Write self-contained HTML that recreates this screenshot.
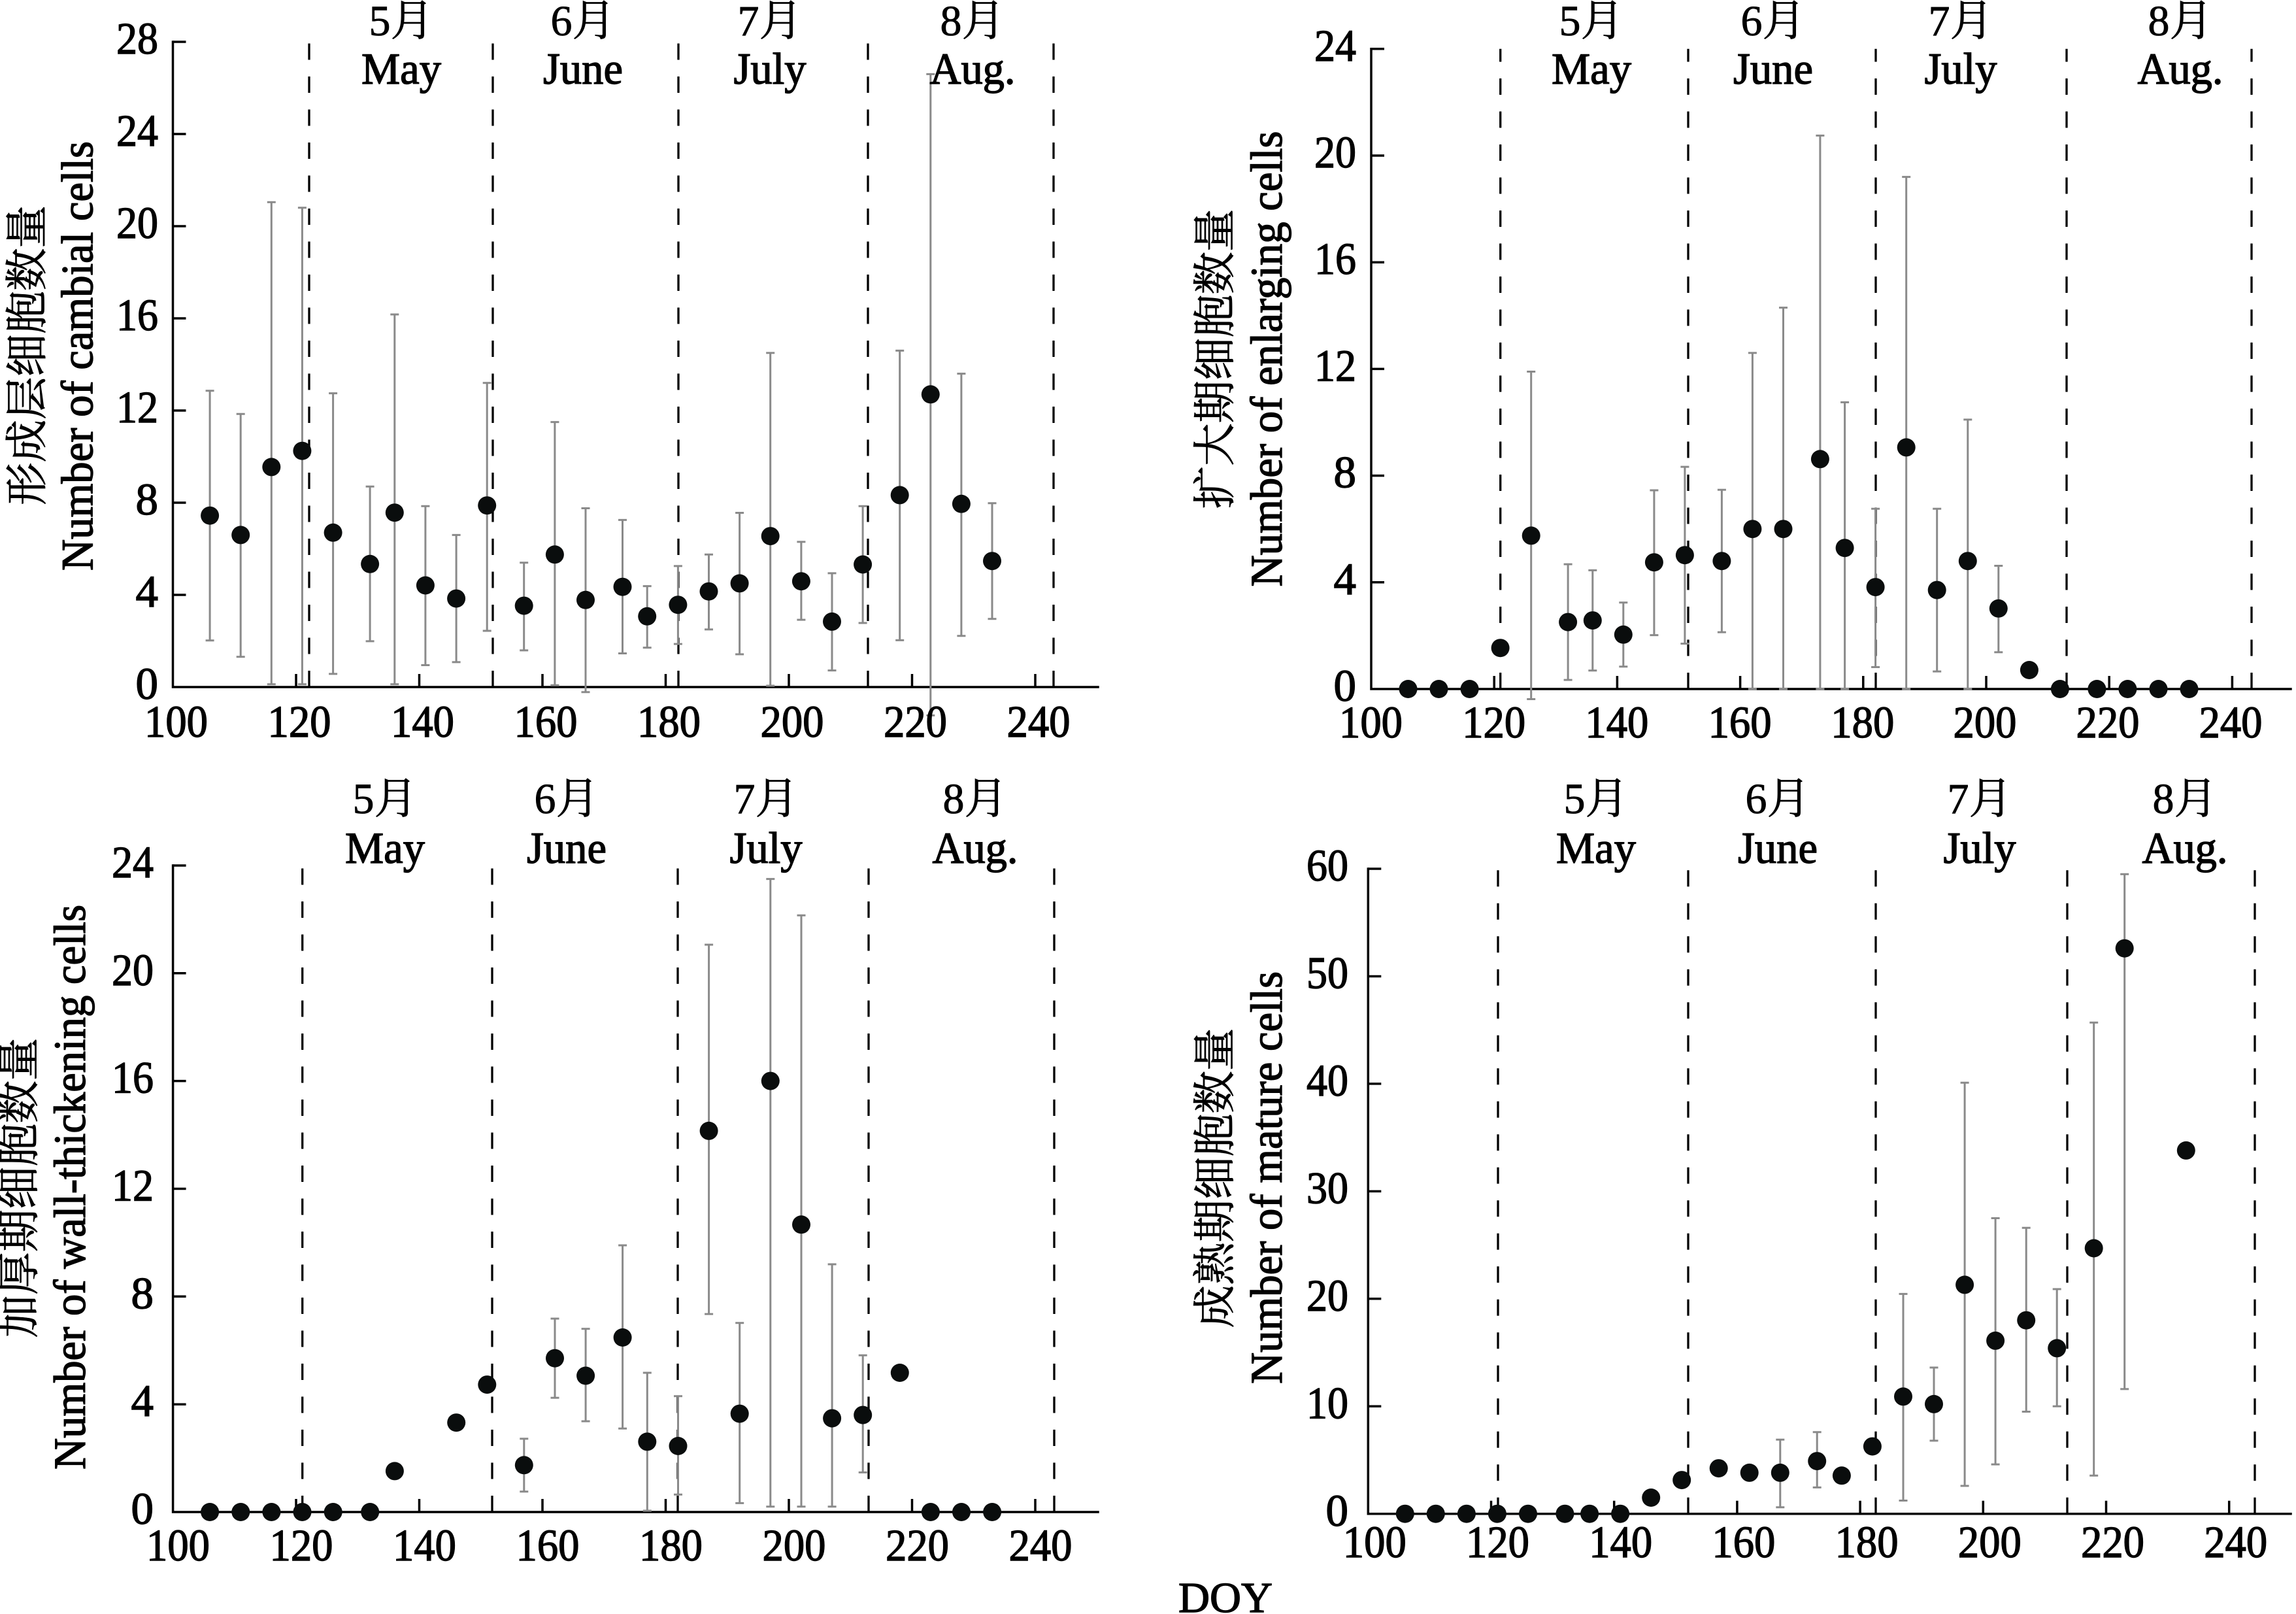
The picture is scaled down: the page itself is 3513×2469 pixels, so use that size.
<!DOCTYPE html>
<html>
<head>
<meta charset="utf-8">
<style>
html,body{margin:0;padding:0;background:#fff;overflow:hidden;}
svg{display:block;}
text{font-family:"Liberation Serif","Noto Serif CJK SC",serif;fill:#000;stroke:#000;stroke-width:1.4px;}
.cjk text, text.cjk{font-family:"Liberation Serif","Noto Serif CJK SC","Noto Sans CJK SC",serif;stroke-width:0.8px;}
</style>
</head>
<body>
<svg xmlns="http://www.w3.org/2000/svg" width="3513" height="2469" viewBox="0 0 3513 2469" font-family="Liberation Serif, Noto Serif CJK SC, serif">
<rect width="3513" height="2469" fill="#fff"/>

<!-- ============ DASHED MONTH LINES ============ -->
<g stroke="#000" stroke-width="3.3" stroke-dasharray="25 25.5" fill="none">
<path d="M473 1051V64M754 1051V64M1038 1051V64M1328 1051V64M1612 1051V64"/>
<path d="M2295.7 1054V74.8M2583 1054V74.8M2870 1054V74.8M3162 1054V74.8M3445 1054V74.8"/>
<path d="M462.7 2313V1324M753 2313V1324M1037 2313V1324M1329 2313V1324M1613 2313V1324"/>
<path d="M2292 2315.7V1329M2583 2315.7V1329M2870 2315.7V1329M3163 2315.7V1329M3450 2315.7V1329"/>
</g>

<!-- ============ AXES ============ -->
<g stroke="#000" stroke-width="3.5" fill="none">
<path d="M264.5 64V1051H1680" stroke-linecap="square"/>
<path d="M264.5 910h20M264.5 769h20M264.5 628h20M264.5 487h20M264.5 346h20M264.5 205h20M264.5 64h20"/>
<path d="M453 1051v-20M641.5 1051v-20M830 1051v-20M1018.5 1051v-20M1207 1051v-20M1395.5 1051v-20M1584 1051v-20"/>

<path d="M2098 74.8V1054H3505" stroke-linecap="square"/>
<path d="M2098 890.8h20M2098 727.6h20M2098 564.4h20M2098 401.2h20M2098 238h20M2098 74.8h20"/>
<path d="M2286.2 1054v-20M2474.4 1054v-20M2662.6 1054v-20M2850.8 1054v-20M3039 1054v-20M3227.2 1054v-20M3415.4 1054v-20"/>

<path d="M264.6 1324V2313H1680" stroke-linecap="square"/>
<path d="M264.6 2148.2h20M264.6 1983.3h20M264.6 1818.5h20M264.6 1653.6h20M264.6 1488.8h20M264.6 1324h20"/>
<path d="M453 2313v-20M641.5 2313v-20M830 2313v-20M1018.5 2313v-20M1207 2313v-20M1395.5 2313v-20M1584 2313v-20"/>

<path d="M2093.3 1329V2315.7H3505" stroke-linecap="square"/>
<path d="M2093.3 2151.3h20M2093.3 1986.8h20M2093.3 1822.4h20M2093.3 1657.9h20M2093.3 1493.5h20M2093.3 1329h20"/>
<path d="M2281.5 2315.7v-20M2469.7 2315.7v-20M2657.9 2315.7v-20M2846.1 2315.7v-20M3034.3 2315.7v-20M3222.5 2315.7v-20M3410.7 2315.7v-20"/>
</g>

<!-- ============ ERROR BARS ============ -->
<g stroke="#8a8a8a" stroke-width="3" fill="none">
<path d="M321.1 597.7V979.8M314.6 597.7h13M314.6 979.8h13
M368.2 633.3V1004.8M361.7 633.3h13M361.7 1004.8h13
M415.3 309.3V1046.8M408.8 309.3h13M408.8 1046.8h13
M462.4 317.8V1046.8M455.9 317.8h13M455.9 1046.8h13
M509.6 601.6V1030.9M503.1 601.6h13M503.1 1030.9h13
M566.1 744.3V980.9M559.6 744.3h13M559.6 980.9h13
M603.8 481V1046.8M597.3 481h13M597.3 1046.8h13
M650.9 774.3V1017.5M644.4 774.3h13M644.4 1017.5h13
M698.1 818.4V1012.9M691.6 818.4h13M691.6 1012.9h13
M745.2 585.7V965M738.7 585.7h13M738.7 965h13
M801.7 860.7V994.9M795.2 860.7h13M795.2 994.9h13
M848.9 645.6V1048.2M842.4 645.6h13M842.4 1048.2h13
M896 777.5V1058.8M889.5 777.5h13M889.5 1058.8h13
M952.5 795.4V999.5M946 795.4h13M946 999.5h13
M990.2 896.6V990.7M983.7 896.6h13M983.7 990.7h13
M1037.4 865.9V985.1M1030.9 865.9h13M1030.9 985.1h13
M1084.5 848.3V962.9M1078 848.3h13M1078 962.9h13
M1131.6 784.5V1000.9M1125.1 784.5h13M1125.1 1000.9h13
M1178.7 539.9V1049M1172.2 539.9h13M1172.2 1049h13
M1225.9 828.9V948.1M1219.4 828.9h13M1219.4 948.1h13
M1273 876.9V1025.6M1266.5 876.9h13M1266.5 1025.6h13
M1320.1 774.3V953M1313.6 774.3h13M1313.6 953h13
M1376.7 536.4V979.4M1370.2 536.4h13M1370.2 979.4h13
M1423.8 113.4V1094.4M1417.3 113.4h13M1417.3 1094.4h13
M1470.9 571.6V972.7M1464.4 571.6h13M1464.4 972.7h13
M1518 769.7V946.7M1511.5 769.7h13M1511.5 946.7h13"/>

<path d="M2342.7 568.5V1069.5M2336.2 568.5h13M2336.2 1069.5h13
M2399.1 863.1V1040.1M2392.6 863.1h13M2392.6 1040.1h13
M2436.8 872.4V1025.8M2430.3 872.4h13M2430.3 1025.8h13
M2483.8 921.8V1019.7M2477.3 921.8h13M2477.3 1019.7h13
M2530.9 750V971.6M2524.4 750h13M2524.4 971.6h13
M2577.9 714.1V984.6M2571.4 714.1h13M2571.4 984.6h13
M2634.4 749.2V967.1M2627.9 749.2h13M2627.9 967.1h13
M2681.4 539.9V1054M2674.9 539.9h13M2674.9 1054h13
M2728.5 470.6V1054M2722 470.6h13M2722 1054h13
M2784.9 207.4V1054M2778.4 207.4h13M2778.4 1054h13
M2822.6 615.4V1054M2816.1 615.4h13M2816.1 1054h13
M2869.6 778.2V1020.5M2863.1 778.2h13M2863.1 1020.5h13
M2916.7 270.6V1054M2910.2 270.6h13M2910.2 1054h13
M2963.7 778.2V1027.1M2957.2 778.2h13M2957.2 1027.1h13
M3010.8 641.9V1054M3004.3 641.9h13M3004.3 1054h13
M3057.8 865.5V997.7M3051.3 865.5h13M3051.3 997.7h13"/>

<path d="M801.8 2200.9V2281.7M795.3 2200.9h13M795.3 2281.7h13
M849 2017.1V2138.3M842.5 2017.1h13M842.5 2138.3h13
M896.1 2032.8V2174.1M889.6 2032.8h13M889.6 2174.1h13
M952.6 1905V2185.2M946.1 1905h13M946.1 2185.2h13
M990.3 2100V2311M983.8 2100h13M983.8 2311h13
M1037.5 2135.8V2286.2M1031 2135.8h13M1031 2286.2h13
M1084.6 1445.1V2010.1M1078.1 1445.1h13M1078.1 2010.1h13
M1131.7 2023.7V2299.4M1125.2 2023.7h13M1125.2 2299.4h13
M1178.8 1344.6V2304.8M1172.3 1344.6h13M1172.3 2304.8h13
M1226 1400.2V2304.8M1219.5 1400.2h13M1219.5 2304.8h13
M1273.1 1934V2304.8M1266.6 1934h13M1266.6 2304.8h13
M1320.2 2073.2V2252.4M1313.7 2073.2h13M1313.7 2252.4h13"/>

<path d="M2723.8 2202.2V2305.8M2717.3 2202.2h13M2717.3 2305.8h13
M2780.2 2190.7V2275.4M2773.7 2190.7h13M2773.7 2275.4h13
M2912 1979.4V2295.5M2905.5 1979.4h13M2905.5 2295.5h13
M2959 2092V2203.9M2952.5 2092h13M2952.5 2203.9h13
M3006.1 1656.3V2273M2999.6 1656.3h13M2999.6 2273h13
M3053.1 1863.5V2240.1M3046.6 1863.5h13M3046.6 2240.1h13
M3100.2 1878.3V2159.5M3093.7 1878.3h13M3093.7 2159.5h13
M3147.2 1972V2151.3M3140.7 1972h13M3140.7 2151.3h13
M3203.7 1564.2V2257.3M3197.2 1564.2h13M3197.2 2257.3h13
M3250.7 1337.2V2124.9M3244.2 1337.2h13M3244.2 2124.9h13"/>
</g>

<!-- ============ DATA POINTS ============ -->
<g fill="#0a0d0d">
<circle cx="321.1" cy="788.7" r="14"/><circle cx="368.2" cy="818.4" r="14"/><circle cx="415.3" cy="714.4" r="14"/><circle cx="462.4" cy="689.7" r="14"/><circle cx="509.6" cy="814.8" r="14"/><circle cx="566.1" cy="862.8" r="14"/><circle cx="603.8" cy="784.2" r="14"/><circle cx="650.9" cy="895.5" r="14"/><circle cx="698.1" cy="915.6" r="14"/><circle cx="745.2" cy="773.2" r="14"/><circle cx="801.7" cy="926.6" r="14"/><circle cx="848.9" cy="848.3" r="14"/><circle cx="896" cy="917.8" r="14"/><circle cx="952.5" cy="897.7" r="14"/><circle cx="990.2" cy="942.8" r="14"/><circle cx="1037.4" cy="925.2" r="14"/><circle cx="1084.5" cy="904.7" r="14"/><circle cx="1131.6" cy="892.4" r="14"/><circle cx="1178.7" cy="820.1" r="14"/><circle cx="1225.9" cy="889.2" r="14"/><circle cx="1273" cy="950.9" r="14"/><circle cx="1320.1" cy="863.5" r="14"/><circle cx="1376.7" cy="757.4" r="14"/><circle cx="1423.8" cy="603.3" r="14"/><circle cx="1470.9" cy="770.8" r="14"/><circle cx="1518" cy="858.2" r="14"/>
<circle cx="2154.5" cy="1054" r="14"/><circle cx="2201.5" cy="1054" r="14"/><circle cx="2248.6" cy="1054" r="14"/><circle cx="2295.6" cy="991.2" r="14"/><circle cx="2342.7" cy="819.4" r="14"/><circle cx="2399.1" cy="951.6" r="14"/><circle cx="2436.8" cy="949.1" r="14"/><circle cx="2483.8" cy="970.8" r="14"/><circle cx="2530.9" cy="860.2" r="14"/><circle cx="2577.9" cy="849.2" r="14"/><circle cx="2634.4" cy="858.2" r="14"/><circle cx="2681.4" cy="809.2" r="14"/><circle cx="2728.5" cy="809.2" r="14"/><circle cx="2784.9" cy="702.3" r="14"/><circle cx="2822.6" cy="838.2" r="14"/><circle cx="2869.6" cy="898.1" r="14"/><circle cx="2916.7" cy="684.4" r="14"/><circle cx="2963.7" cy="902.6" r="14"/><circle cx="3010.8" cy="858.2" r="14"/><circle cx="3057.8" cy="930.8" r="14"/><circle cx="3104.9" cy="1025" r="14"/><circle cx="3151.9" cy="1054" r="14"/><circle cx="3208.4" cy="1054" r="14"/><circle cx="3255.4" cy="1054" r="14"/><circle cx="3302.5" cy="1054" r="14"/><circle cx="3349.5" cy="1054" r="14"/>
<circle cx="321.1" cy="2313" r="14"/><circle cx="368.3" cy="2313" r="14"/><circle cx="415.4" cy="2313" r="14"/><circle cx="462.5" cy="2313" r="14"/><circle cx="509.7" cy="2313" r="14"/><circle cx="566.2" cy="2313" r="14"/><circle cx="603.9" cy="2250.4" r="14"/><circle cx="698.2" cy="2176.2" r="14"/><circle cx="745.3" cy="2118.1" r="14"/><circle cx="801.8" cy="2241.3" r="14"/><circle cx="849" cy="2077.7" r="14"/><circle cx="896.1" cy="2104.5" r="14"/><circle cx="952.6" cy="2046" r="14"/><circle cx="990.3" cy="2205.4" r="14"/><circle cx="1037.5" cy="2212" r="14"/><circle cx="1084.6" cy="1729.9" r="14"/><circle cx="1131.7" cy="2162.6" r="14"/><circle cx="1178.8" cy="1653.6" r="14"/><circle cx="1226" cy="1873.3" r="14"/><circle cx="1273.1" cy="2169.6" r="14"/><circle cx="1320.2" cy="2164.6" r="14"/><circle cx="1376.8" cy="2100" r="14"/><circle cx="1423.9" cy="2313" r="14"/><circle cx="1471" cy="2313" r="14"/><circle cx="1518.1" cy="2313" r="14"/>
<circle cx="2149.8" cy="2315.7" r="14"/><circle cx="2196.8" cy="2315.7" r="14"/><circle cx="2243.9" cy="2315.7" r="14"/><circle cx="2290.9" cy="2315.7" r="14"/><circle cx="2338" cy="2315.7" r="14"/><circle cx="2394.4" cy="2315.7" r="14"/><circle cx="2432.1" cy="2315.7" r="14"/><circle cx="2479.1" cy="2315.7" r="14"/><circle cx="2526.2" cy="2291" r="14"/><circle cx="2573.2" cy="2264.1" r="14"/><circle cx="2629.7" cy="2246.1" r="14"/><circle cx="2676.7" cy="2252.9" r="14"/><circle cx="2723.8" cy="2252.9" r="14"/><circle cx="2780.2" cy="2235.1" r="14"/><circle cx="2817.9" cy="2257.3" r="14"/><circle cx="2864.9" cy="2212.6" r="14"/><circle cx="2912" cy="2136.4" r="14"/><circle cx="2959" cy="2147.9" r="14"/><circle cx="3006.1" cy="1965.4" r="14"/><circle cx="3053.1" cy="2050.9" r="14"/><circle cx="3100.2" cy="2019.7" r="14"/><circle cx="3147.2" cy="2062.4" r="14"/><circle cx="3203.7" cy="1909.5" r="14"/><circle cx="3250.7" cy="1450.7" r="14"/><circle cx="3344.8" cy="1759.9" r="14"/>
</g>

<!-- ============ Y TICK LABELS ============ -->
<g font-size="69" text-anchor="end" font-family="Liberation Serif, serif">
<text x="242" y="1069">0</text>
<text x="242" y="928">4</text>
<text x="242" y="787">8</text>
<text x="242" y="646" textLength="64" lengthAdjust="spacingAndGlyphs">12</text>
<text x="242" y="505" textLength="64" lengthAdjust="spacingAndGlyphs">16</text>
<text x="242" y="364" textLength="64" lengthAdjust="spacingAndGlyphs">20</text>
<text x="242" y="223" textLength="64" lengthAdjust="spacingAndGlyphs">24</text>
<text x="242" y="82" textLength="64" lengthAdjust="spacingAndGlyphs">28</text>

<text x="2075" y="1072">0</text>
<text x="2075" y="908.8">4</text>
<text x="2075" y="745.6">8</text>
<text x="2075" y="582.4" textLength="64" lengthAdjust="spacingAndGlyphs">12</text>
<text x="2075" y="419.2" textLength="64" lengthAdjust="spacingAndGlyphs">16</text>
<text x="2075" y="256" textLength="64" lengthAdjust="spacingAndGlyphs">20</text>
<text x="2075" y="92.8" textLength="64" lengthAdjust="spacingAndGlyphs">24</text>

<text x="235" y="2331">0</text>
<text x="235" y="2166.2">4</text>
<text x="235" y="2001.3">8</text>
<text x="235" y="1836.5" textLength="64" lengthAdjust="spacingAndGlyphs">12</text>
<text x="235" y="1671.6" textLength="64" lengthAdjust="spacingAndGlyphs">16</text>
<text x="235" y="1506.8" textLength="64" lengthAdjust="spacingAndGlyphs">20</text>
<text x="235" y="1342" textLength="64" lengthAdjust="spacingAndGlyphs">24</text>

<text x="2063" y="2334">0</text>
<text x="2063" y="2169.3" textLength="64" lengthAdjust="spacingAndGlyphs">10</text>
<text x="2063" y="2004.8" textLength="64" lengthAdjust="spacingAndGlyphs">20</text>
<text x="2063" y="1840.4" textLength="64" lengthAdjust="spacingAndGlyphs">30</text>
<text x="2063" y="1675.9" textLength="64" lengthAdjust="spacingAndGlyphs">40</text>
<text x="2063" y="1511.5" textLength="64" lengthAdjust="spacingAndGlyphs">50</text>
<text x="2063" y="1347" textLength="64" lengthAdjust="spacingAndGlyphs">60</text>
</g>

<!-- ============ X TICK LABELS ============ -->
<g font-size="69" text-anchor="middle" font-family="Liberation Serif, serif">
<text x="269.5" y="1127" textLength="97" lengthAdjust="spacingAndGlyphs">100</text>
<text x="458" y="1127" textLength="97" lengthAdjust="spacingAndGlyphs">120</text>
<text x="646.5" y="1127" textLength="97" lengthAdjust="spacingAndGlyphs">140</text>
<text x="835" y="1127" textLength="97" lengthAdjust="spacingAndGlyphs">160</text>
<text x="1023.5" y="1127" textLength="97" lengthAdjust="spacingAndGlyphs">180</text>
<text x="1212" y="1127" textLength="97" lengthAdjust="spacingAndGlyphs">200</text>
<text x="1400.5" y="1127" textLength="97" lengthAdjust="spacingAndGlyphs">220</text>
<text x="1589" y="1127" textLength="97" lengthAdjust="spacingAndGlyphs">240</text>

<text x="2097.5" y="1128" textLength="97" lengthAdjust="spacingAndGlyphs">100</text>
<text x="2285.7" y="1128" textLength="97" lengthAdjust="spacingAndGlyphs">120</text>
<text x="2473.9" y="1128" textLength="97" lengthAdjust="spacingAndGlyphs">140</text>
<text x="2662.1" y="1128" textLength="97" lengthAdjust="spacingAndGlyphs">160</text>
<text x="2849.8" y="1128" textLength="97" lengthAdjust="spacingAndGlyphs">180</text>
<text x="3037" y="1128" textLength="97" lengthAdjust="spacingAndGlyphs">200</text>
<text x="3225" y="1128" textLength="97" lengthAdjust="spacingAndGlyphs">220</text>
<text x="3413" y="1128" textLength="97" lengthAdjust="spacingAndGlyphs">240</text>

<text x="272.5" y="2387" textLength="97" lengthAdjust="spacingAndGlyphs">100</text>
<text x="461" y="2387" textLength="97" lengthAdjust="spacingAndGlyphs">120</text>
<text x="649.5" y="2387" textLength="97" lengthAdjust="spacingAndGlyphs">140</text>
<text x="838" y="2387" textLength="97" lengthAdjust="spacingAndGlyphs">160</text>
<text x="1026.5" y="2387" textLength="97" lengthAdjust="spacingAndGlyphs">180</text>
<text x="1215" y="2387" textLength="97" lengthAdjust="spacingAndGlyphs">200</text>
<text x="1403.5" y="2387" textLength="97" lengthAdjust="spacingAndGlyphs">220</text>
<text x="1592" y="2387" textLength="97" lengthAdjust="spacingAndGlyphs">240</text>

<text x="2103.3" y="2382" textLength="97" lengthAdjust="spacingAndGlyphs">100</text>
<text x="2291.5" y="2382" textLength="97" lengthAdjust="spacingAndGlyphs">120</text>
<text x="2479.7" y="2382" textLength="97" lengthAdjust="spacingAndGlyphs">140</text>
<text x="2667.9" y="2382" textLength="97" lengthAdjust="spacingAndGlyphs">160</text>
<text x="2856.1" y="2382" textLength="97" lengthAdjust="spacingAndGlyphs">180</text>
<text x="3044.3" y="2382" textLength="97" lengthAdjust="spacingAndGlyphs">200</text>
<text x="3232.5" y="2382" textLength="97" lengthAdjust="spacingAndGlyphs">220</text>
<text x="3420.7" y="2382" textLength="97" lengthAdjust="spacingAndGlyphs">240</text>
</g>

<!-- DOY -->
<text x="1875" y="2466" font-size="66" text-anchor="middle" textLength="144" lengthAdjust="spacingAndGlyphs">DOY</text>

<!-- ============ MONTH LABELS ============ -->
<g class="cjk" font-size="66" text-anchor="middle">
<text x="614" y="54">5月</text>
<text x="892" y="54">6月</text>
<text x="1178" y="54">7月</text>
<text x="1488" y="54">8月</text>
<text x="2435" y="54">5月</text>
<text x="2713" y="54">6月</text>
<text x="3000" y="54">7月</text>
<text x="3336" y="54">8月</text>
<text x="589" y="1244">5月</text>
<text x="867" y="1244">6月</text>
<text x="1172" y="1244">7月</text>
<text x="1492" y="1244">8月</text>
<text x="2442" y="1244">5月</text>
<text x="2720" y="1244">6月</text>
<text x="3029" y="1244">7月</text>
<text x="3343" y="1244">8月</text>
</g>
<g font-size="68" text-anchor="middle">
<text x="614" y="128" textLength="122" lengthAdjust="spacingAndGlyphs">May</text>
<text x="892" y="128" textLength="122" lengthAdjust="spacingAndGlyphs">June</text>
<text x="1178" y="128" textLength="111" lengthAdjust="spacingAndGlyphs">July</text>
<text x="1488" y="128" textLength="131" lengthAdjust="spacingAndGlyphs">Aug.</text>
<text x="2435" y="128" textLength="122" lengthAdjust="spacingAndGlyphs">May</text>
<text x="2713" y="128" textLength="122" lengthAdjust="spacingAndGlyphs">June</text>
<text x="3000" y="128" textLength="111" lengthAdjust="spacingAndGlyphs">July</text>
<text x="3336" y="128" textLength="131" lengthAdjust="spacingAndGlyphs">Aug.</text>
<text x="589" y="1320" textLength="122" lengthAdjust="spacingAndGlyphs">May</text>
<text x="867" y="1320" textLength="122" lengthAdjust="spacingAndGlyphs">June</text>
<text x="1172" y="1320" textLength="111" lengthAdjust="spacingAndGlyphs">July</text>
<text x="1492" y="1320" textLength="131" lengthAdjust="spacingAndGlyphs">Aug.</text>
<text x="2442" y="1320" textLength="122" lengthAdjust="spacingAndGlyphs">May</text>
<text x="2720" y="1320" textLength="122" lengthAdjust="spacingAndGlyphs">June</text>
<text x="3029" y="1320" textLength="111" lengthAdjust="spacingAndGlyphs">July</text>
<text x="3343" y="1320" textLength="131" lengthAdjust="spacingAndGlyphs">Aug.</text>
</g>

<!-- ============ Y AXIS TITLES ============ -->
<g font-size="69" text-anchor="middle" font-family="Liberation Serif, serif">
<text transform="translate(141.7,544.5) rotate(-90)" textLength="657" lengthAdjust="spacingAndGlyphs">Number of cambial cells</text>
<text transform="translate(1961,549) rotate(-90)" textLength="697" lengthAdjust="spacingAndGlyphs">Number of enlarging cells</text>
<text transform="translate(130,1816) rotate(-90)" textLength="864" lengthAdjust="spacingAndGlyphs">Number of wall-thickening cells</text>
<text transform="translate(1961,1801.5) rotate(-90)" textLength="631" lengthAdjust="spacingAndGlyphs">Number of mature cells</text>
</g>
<g class="cjk" font-size="66" text-anchor="middle" dominant-baseline="central">
<text transform="translate(42.5,543.5) rotate(-90)" textLength="459" lengthAdjust="spacingAndGlyphs">形成层细胞数量</text>
<text transform="translate(1860,549) rotate(-90)" textLength="459" lengthAdjust="spacingAndGlyphs">扩大期细胞数量</text>
<text transform="translate(30,1817) rotate(-90)" textLength="459" lengthAdjust="spacingAndGlyphs">加厚期细胞数量</text>
<text transform="translate(1860,1802) rotate(-90)" textLength="459" lengthAdjust="spacingAndGlyphs">成熟期细胞数量</text>
</g>
</svg>
</body>
</html>
